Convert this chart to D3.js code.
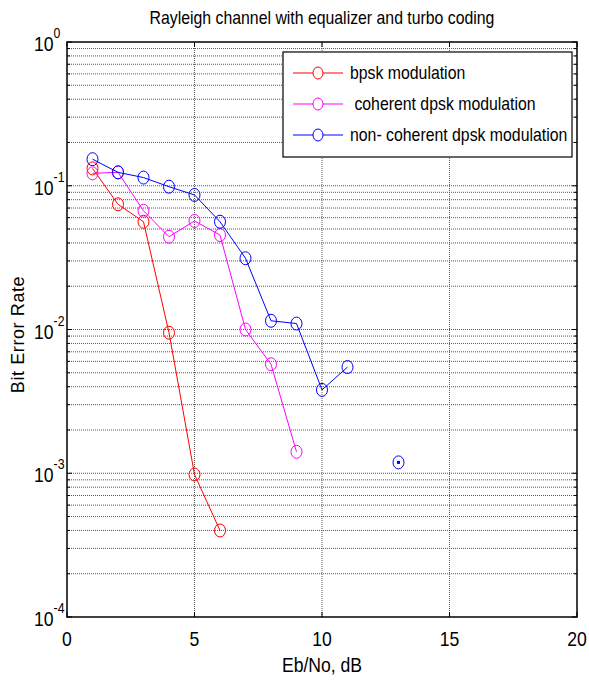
<!DOCTYPE html>
<html>
<head>
<meta charset="utf-8">
<script src="https://cdn.jsdelivr.net/npm/d3@7"></script>
<style>
  body { margin: 0; background: #fff; }
  svg text { font-family: "Liberation Sans", Arial, sans-serif; fill: #000; }
</style>
</head>
<body>
<svg id="chart" width="589" height="682"></svg>
<script>
// Eb/No values (dB)
const snrBpsk = [1, 2, 3, 4, 5, 6];
const berBpsk = [0.132, 0.0743, 0.0562, 0.0095, 0.00098, 0.0004];

const snrCoh = [1, 2, 3, 4, 5, 6, 7, 8, 9];
const berCoh = [0.122, 0.124, 0.067, 0.0442, 0.0569, 0.0454, 0.0100, 0.00573, 0.00141];

// x = 12 has no errors counted (0), which leaves a gap before the point at 13
const snrNonCoh = [1, 2, 3, 4, 5, 6, 7, 8, 9, 10, 11, 12, 13];
const berNonCoh = [0.153, 0.124, 0.114, 0.0985, 0.0863, 0.0562, 0.0313, 0.0115, 0.011, 0.0038, 0.00548, 0, 0.00119];

const xTicks = [0, 5, 10, 15, 20];
const yDecades = [1, 0.1, 0.01, 0.001, 0.0001];

const seriesNames = ['bpsk modulation', ' coherent dpsk modulation', 'non- coherent dpsk modulation'];
const seriesColors = ['#ff0000', '#ff00ff', '#0000ff'];

const series = [
  { name: seriesNames[0], color: seriesColors[0], xs: snrBpsk, ys: berBpsk },
  { name: seriesNames[1], color: seriesColors[1], xs: snrCoh, ys: berCoh },
  { name: seriesNames[2], color: seriesColors[2], xs: snrNonCoh, ys: berNonCoh }
];

const NARROW = 0.88; // squeeze to mimic the condensed font of the original

const margin = { left: 67, right: 12, top: 42, bottom: 65 };
const W = 589, H = 682;
const svg = d3.select('#chart');

const x = d3.scaleLinear().domain([0, 20]).range([margin.left, W - margin.right]);
const y = d3.scaleLog().domain([1e-4, 1]).range([H - margin.bottom, margin.top]);

const x0 = x.range()[0], x1 = x.range()[1];
const y0 = y.range()[0], y1 = y.range()[1];

// minor values 2..9 of each decade
const minorVals = [];
for (let e = -4; e < 0; e++) {
  for (let m = 2; m <= 9; m++) minorVals.push(m * Math.pow(10, e));
}
const allY = yDecades.concat(minorVals);

// grid
const grid = svg.append('g').attr('class', 'grid');
grid.selectAll('line.hg')
  .data(allY.filter((v) => v > 1e-4 && v < 1))
  .join('line')
  .attr('x1', x0).attr('x2', x1)
  .attr('y1', (d) => y(d)).attr('y2', (d) => y(d))
  .attr('stroke', '#555')
  .attr('stroke-width', 1)
  .attr('stroke-dasharray', '1,1');
grid.selectAll('line.vg')
  .data(xTicks.filter((v) => v > 0 && v < 20))
  .join('line')
  .attr('x1', (d) => x(d)).attr('x2', (d) => x(d))
  .attr('y1', y0).attr('y2', y1)
  .attr('stroke', '#555')
  .attr('stroke-width', 1)
  .attr('stroke-dasharray', '1,1');

// axes box and inward ticks
const axes = svg.append('g').attr('class', 'axes');
const tickLen = 5, minorLen = 3;
xTicks.forEach((v) => {
  axes.append('line').attr('x1', x(v)).attr('x2', x(v)).attr('y1', y0).attr('y2', y0 - tickLen).attr('stroke', '#000');
  axes.append('line').attr('x1', x(v)).attr('x2', x(v)).attr('y1', y1).attr('y2', y1 + tickLen).attr('stroke', '#000');
});
yDecades.forEach((v) => {
  axes.append('line').attr('x1', x0).attr('x2', x0 + tickLen).attr('y1', y(v)).attr('y2', y(v)).attr('stroke', '#000');
  axes.append('line').attr('x1', x1).attr('x2', x1 - tickLen).attr('y1', y(v)).attr('y2', y(v)).attr('stroke', '#000');
});
minorVals.forEach((v) => {
  axes.append('line').attr('x1', x0).attr('x2', x0 + minorLen).attr('y1', y(v)).attr('y2', y(v)).attr('stroke', '#000');
  axes.append('line').attr('x1', x1).attr('x2', x1 - minorLen).attr('y1', y(v)).attr('y2', y(v)).attr('stroke', '#000');
});
axes.append('rect')
  .attr('x', x0).attr('y', y1)
  .attr('width', x1 - x0).attr('height', y0 - y1)
  .attr('fill', 'none').attr('stroke', '#000').attr('stroke-width', 1.5);

// tick labels
svg.append('g').selectAll('text')
  .data(xTicks)
  .join('text')
  .attr('transform', (d) => `translate(${x(d)},${y0 + 29}) scale(${NARROW},1)`)
  .attr('text-anchor', 'middle')
  .style('font-size', '20px')
  .text((d) => d);

const yl = svg.append('g').selectAll('text')
  .data(yDecades)
  .join('text')
  .attr('transform', (d) => `translate(${x0 - 33},${y(d) + 9}) scale(${NARROW},1)`)
  .style('font-size', '20px');
yl.append('tspan').text('10');
yl.append('tspan')
  .attr('dy', -13)
  .style('font-size', '14px')
  .text((d) => Math.round(Math.log10(d)));

// title and axis labels
svg.append('text')
  .attr('transform', `translate(${(x0 + x1) / 2},24) scale(${NARROW},1)`)
  .attr('text-anchor', 'middle')
  .style('font-size', '18px')
  .text('Rayleigh channel with equalizer and turbo coding');
svg.append('text')
  .attr('transform', `translate(${(x0 + x1) / 2},672) scale(${NARROW},1)`)
  .attr('text-anchor', 'middle')
  .style('font-size', '20px')
  .text('Eb/No, dB');
svg.append('text')
  .attr('transform', `translate(24,${(y0 + y1) / 2 + 5}) rotate(-90)`)
  .attr('text-anchor', 'middle')
  .style('font-size', '18px')
  .style('letter-spacing', '0.6px')
  .text('Bit Error Rate');

// data series
const line = d3.line()
  .defined((d) => d[1] > 0)
  .x((d) => x(d[0]))
  .y((d) => y(d[1]));

series.forEach((s) => {
  const pts = s.xs.map((v, i) => [v, s.ys[i]]);
  svg.append('path')
    .datum(pts)
    .attr('d', line)
    .attr('fill', 'none')
    .attr('stroke', s.color)
    .attr('stroke-width', 1);
  svg.append('g').selectAll('ellipse')
    .data(pts.filter((d) => d[1] > 0))
    .join('ellipse')
    .attr('cx', (d) => x(d[0]))
    .attr('cy', (d) => y(d[1]))
    .attr('rx', 5.5).attr('ry', 6.5)
    .attr('fill', 'none')
    .attr('stroke', s.color)
    .attr('stroke-width', 1);
});

// lone point at 13 dB: a single-point segment draws as a dot in the marker
const lone = snrNonCoh.map((v, i) => [v, berNonCoh[i]])
  .filter((d, i, arr) => d[1] > 0 && (i === 0 || arr[i - 1][1] <= 0) && (i === arr.length - 1 || arr[i + 1][1] <= 0));
svg.append('g').selectAll('rect')
  .data(lone)
  .join('rect')
  .attr('x', (d) => x(d[0]) - 1.5)
  .attr('y', (d) => y(d[1]) - 1.5)
  .attr('width', 3).attr('height', 3)
  .attr('fill', seriesColors[2]);

// legend
const lg = svg.append('g').attr('transform', 'translate(283,52)');
lg.append('rect')
  .attr('width', 289).attr('height', 105)
  .attr('fill', '#fff').attr('stroke', '#000').attr('stroke-width', 1.2);
series.forEach((s, i) => {
  const ly = 21 + i * 31;
  lg.append('line').attr('x1', 10).attr('x2', 60).attr('y1', ly).attr('y2', ly).attr('stroke', s.color);
  lg.append('ellipse').attr('cx', 35).attr('cy', ly).attr('rx', 5).attr('ry', 6)
    .attr('fill', '#fff').attr('stroke', s.color);
  lg.append('text')
    .attr('transform', `translate(67,${ly + 6}) scale(${NARROW},1)`)
    .attr('xml:space', 'preserve')
    .style('white-space', 'pre')
    .style('font-size', '18px')
    .text(s.name);
});
</script>
</body>
</html>
